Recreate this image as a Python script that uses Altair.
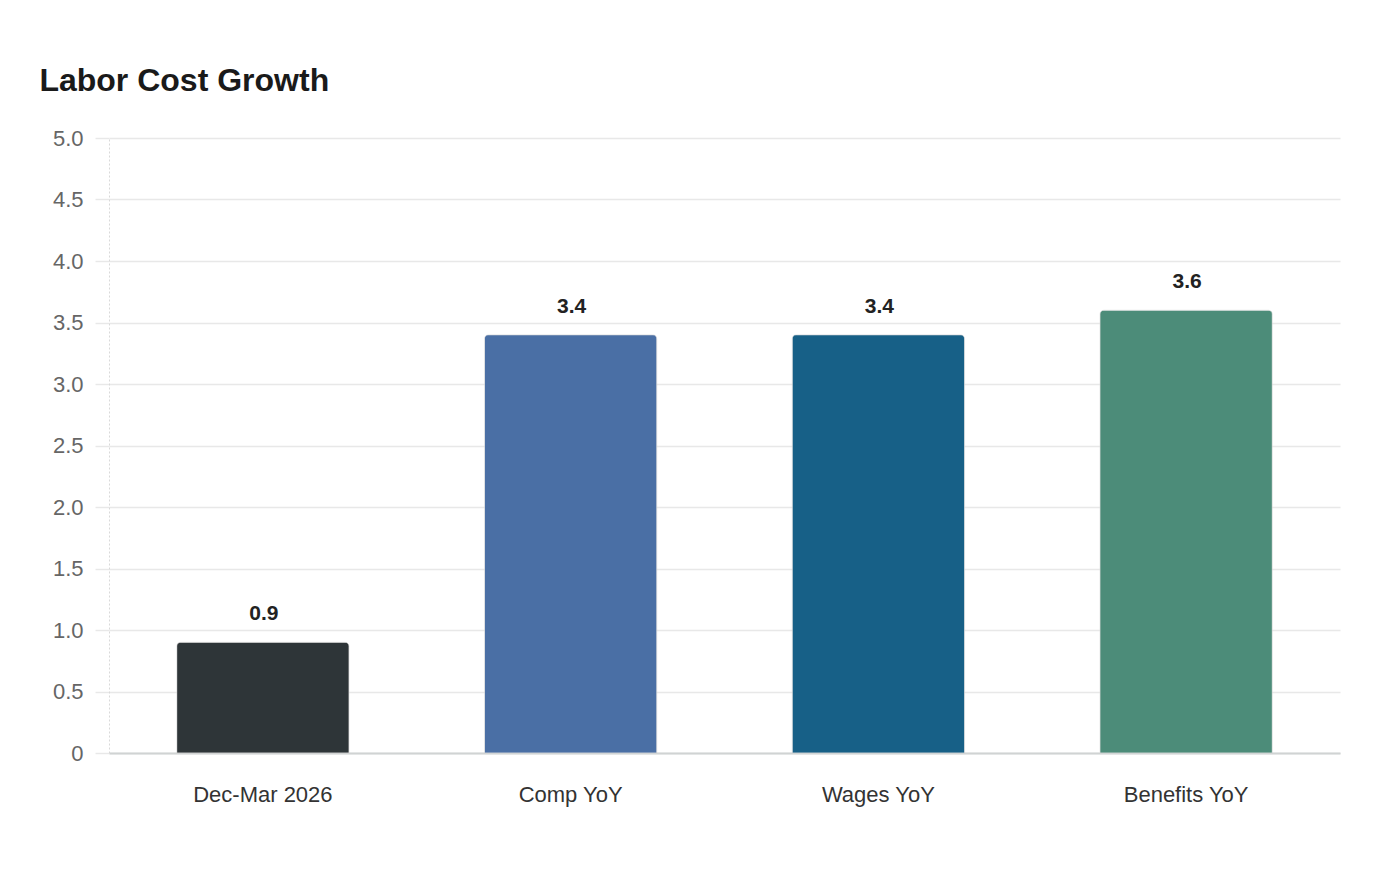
import altair as alt
import pandas as pd

categories = ["Dec-Mar 2026", "Comp YoY", "Wages YoY", "Benefits YoY"]
values = [0.9, 3.4, 3.4, 3.6]
colors = ["#2e3538", "#4a6fa5", "#176087", "#4c8c79"]
y_ticks = [0, 0.5, 1.0, 1.5, 2.0, 2.5, 3.0, 3.5, 4.0, 4.5, 5.0]

df = pd.DataFrame({"category": categories, "value": values, "color": colors})

x = alt.X("category:N", sort=categories, title=None,
          scale=alt.Scale(paddingInner=0.44, paddingOuter=0.22),
          axis=alt.Axis(labelAngle=0, labelFont="Liberation Sans", labelFontSize=22,
                        labelColor="#333333", labelPadding=31, ticks=False,
                        domainColor="#d0d3d3", domainWidth=2, grid=False))
y = alt.Y("value:Q", title=None,
          scale=alt.Scale(domain=[0, 5], nice=False),
          axis=alt.Axis(values=y_ticks,
                        labelExpr="datum.value == 0 ? '0' : format(datum.value, '.1f')",
                        labelFont="Liberation Sans", labelFontSize=22, labelColor="#666666",
                        labelPadding=12, tickSize=14, tickColor="#e8e8e8", tickWidth=1.5,
                        gridColor="#e8e8e8", gridWidth=1.5,
                        domainColor="#d9d9d9", domainDash=[2, 2], domainWidth=1))

bars = alt.Chart(df).mark_bar(cornerRadiusTopLeft=4, cornerRadiusTopRight=4,
                              stroke="#d8d8d8", strokeWidth=0.5).encode(
    x=x, y=y, color=alt.Color("color:N", scale=None)
)

labels = alt.Chart(df).mark_text(font="Liberation Sans", fontSize=21, fontWeight="bold",
                                 color="#222222", baseline="alphabetic", dy=-22, dx=1).encode(
    x=alt.X("category:N", sort=categories),
    y="value:Q",
    text=alt.Text("value:Q", format=".1f"),
)

chart = (bars + labels).properties(
    width=1231, height=615,
    title=alt.TitleParams("Labor Cost Growth", anchor="start", frame="bounds",
                          font="Liberation Sans", fontSize=32, fontWeight="bold",
                          color="#1a1a1a", dx=-13, offset=29),
    autosize=alt.AutoSizeParams(type="none"),
    padding={"left": 101, "top": 130, "right": 52, "bottom": 100},
).configure(background="white").configure_view(stroke=None)

chart.save("out.html", embed_options={"renderer": "svg", "actions": False})
